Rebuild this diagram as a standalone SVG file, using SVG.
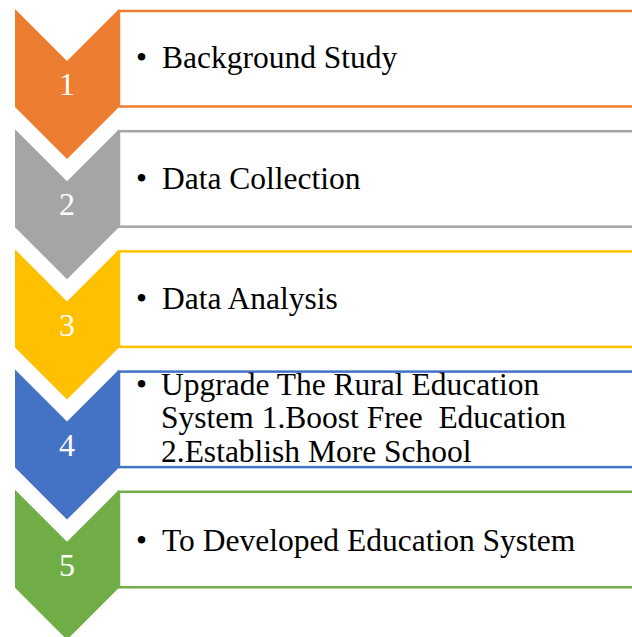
<svg xmlns="http://www.w3.org/2000/svg" width="632" height="637" viewBox="0 0 632 637">
<style>
.box{fill:#fff;stroke-width:2.5}
.num{font-family:"Liberation Serif","Times New Roman",serif;font-size:32px;fill:#fff;text-anchor:middle}
.lbl{font-family:"Liberation Serif","Times New Roman",serif;font-size:31.5px;fill:#000}
</style>
<rect width="632" height="637" fill="#fff"/>
<g id="step1">
<polygon points="15,9 67,61 119,9 119,107 67,159 15,107" fill="#ED7D31"/>
<rect class="box" x="119" y="11" width="520" height="95.5" stroke="#ED7D31"/>
<text class="num" x="67" y="95">1</text>
<text class="lbl" x="136" y="68">•</text>
<text class="lbl" x="162" y="68">Background Study</text>
</g>
<g id="step2">
<polygon points="15,129.2 67,181.2 119,129.2 119,227.2 67,279.2 15,227.2" fill="#A5A5A5"/>
<rect class="box" x="119" y="131.2" width="520" height="95.5" stroke="#A5A5A5"/>
<text class="num" x="67" y="215">2</text>
<text class="lbl" x="136" y="188.5">•</text>
<text class="lbl" x="162" y="188.5">Data Collection</text>
</g>
<g id="step3">
<polygon points="15,249.4 67,301.4 119,249.4 119,347.4 67,399.4 15,347.4" fill="#FFC000"/>
<rect class="box" x="119" y="251.4" width="520" height="95.5" stroke="#FFC000"/>
<text class="num" x="67" y="335.5">3</text>
<text class="lbl" x="136" y="309">•</text>
<text class="lbl" x="162" y="309">Data Analysis</text>
</g>
<g id="step4">
<polygon points="15,369.6 67,421.6 119,369.6 119,467.6 67,519.6 15,467.6" fill="#4472C4"/>
<rect class="box" x="119" y="371.6" width="520" height="95.5" stroke="#4472C4"/>
<text class="num" x="67" y="456">4</text>
<text class="lbl" x="136" y="395">•</text>
<text class="lbl" x="161" y="395">Upgrade The Rural Education</text>
<text class="lbl" x="161" y="428.3" xml:space="preserve">System 1.Boost Free  Education</text>
<text class="lbl" x="161" y="461.7">2.Establish More School</text>
</g>
<g id="step5">
<polygon points="15,489.8 67,541.8 119,489.8 119,587.8 67,639.8 15,587.8" fill="#70AD47"/>
<rect class="box" x="119" y="491.8" width="520" height="95.5" stroke="#70AD47"/>
<text class="num" x="67" y="576">5</text>
<text class="lbl" x="136" y="550.5">•</text>
<text class="lbl" x="162" y="550.5">To Developed Education System</text>
</g>
<g id="connectors"/>
</svg>
